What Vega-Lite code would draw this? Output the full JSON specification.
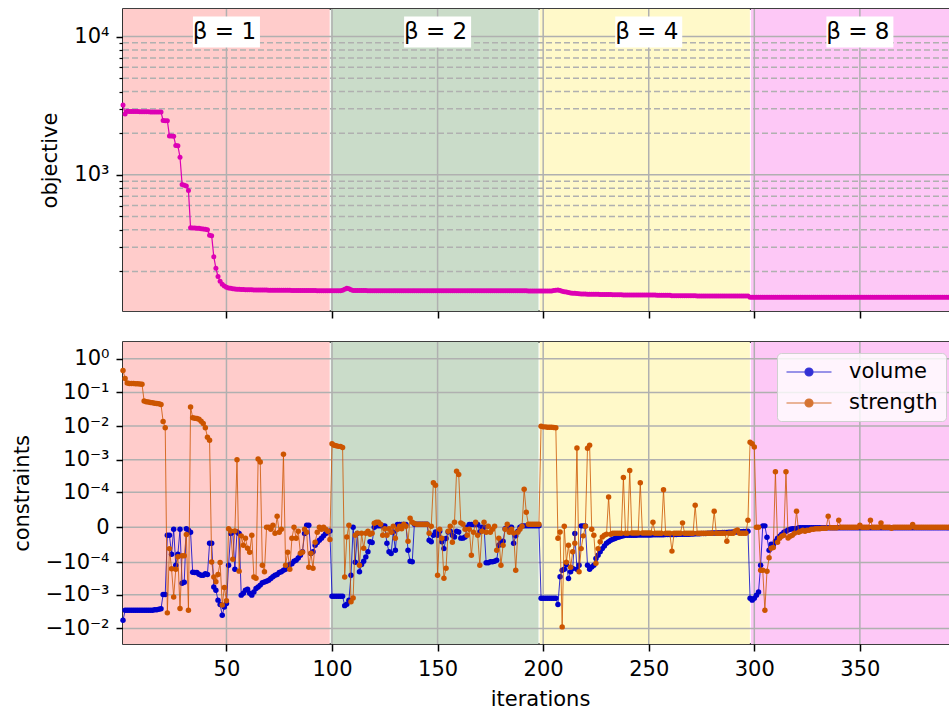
{
  "$schema": "https://vega.github.io/schema/vega-lite/v6.json",
  "background": "white",
  "padding": {"left": 10, "top": 7, "right": 0, "bottom": 0},
  "config": {
    "font": "DejaVu Sans",
    "view": {"stroke": "#000000", "strokeWidth": 1.6},
    "axis": {
      "labelFont": "DejaVu Sans", "titleFont": "DejaVu Sans",
      "labelFontSize": 21, "titleFontSize": 21, "titleFontWeight": "normal",
      "labelColor": "#000000", "titleColor": "#000000",
      "tickColor": "#000000", "tickWidth": 1.5, "tickSize": 7,
      "labelPadding": 7, "titlePadding": 13,
      "domain": false, "grid": false, "labelOverlap": false, "labelFlush": false, "labelBound": false
    },
    "legend": {"labelFont": "DejaVu Sans"}
  },
  "datasets": {
    "spans": [
      {"start": 1, "end": 98.9, "beta": "1"},
      {"start": 99.4, "end": 197.8, "beta": "2"},
      {"start": 198.3, "end": 297.9, "beta": "4"},
      {"start": 298.4, "end": 396, "beta": "8"}
    ],
    "xgrid": [{"tick": 50}, {"tick": 100}, {"tick": 150}, {"tick": 200}, {"tick": 250}, {"tick": 300}, {"tick": 350}],
    "ymajor": [{"tick": 1000}, {"tick": 10000}],
    "yminor": [{"tick": 200}, {"tick": 300}, {"tick": 400}, {"tick": 500}, {"tick": 600}, {"tick": 700}, {"tick": 800}, {"tick": 900}, {"tick": 2000}, {"tick": 3000}, {"tick": 4000}, {"tick": 5000}, {"tick": 6000}, {"tick": 7000}, {"tick": 8000}, {"tick": 9000}],
    "cgrid": [{"tick": -0.01}, {"tick": -0.001}, {"tick": -0.0001}, {"tick": 0}, {"tick": 0.0001}, {"tick": 0.001}, {"tick": 0.01}, {"tick": 0.1}, {"tick": 1}],
    "betas": [
      {"iteration": 50, "objective": 10780, "label": "β = 1"},
      {"iteration": 150, "objective": 10780, "label": "β = 2"},
      {"iteration": 250, "objective": 10780, "label": "β = 4"},
      {"iteration": 350, "objective": 10780, "label": "β = 8"}
    ],
    "iters": [
      {"iteration":1,"objective":3200,"volume":-0.0057,"strength":0.45},
      {"iteration":2,"objective":2750,"volume":-0.0029,"strength":0.26},
      {"iteration":3,"objective":2880,"volume":-0.0029,"strength":0.19},
      {"iteration":4,"objective":2875,"volume":-0.0029,"strength":0.185},
      {"iteration":5,"objective":2870,"volume":-0.0029,"strength":0.185},
      {"iteration":6,"objective":2870,"volume":-0.0029,"strength":0.183},
      {"iteration":7,"objective":2865,"volume":-0.0029,"strength":0.18},
      {"iteration":8,"objective":2865,"volume":-0.0029,"strength":0.18},
      {"iteration":9,"objective":2860,"volume":-0.0029,"strength":0.178},
      {"iteration":10,"objective":2860,"volume":-0.0029,"strength":0.175},
      {"iteration":11,"objective":2860,"volume":-0.0029,"strength":0.056},
      {"iteration":12,"objective":2855,"volume":-0.0029,"strength":0.053},
      {"iteration":13,"objective":2855,"volume":-0.0029,"strength":0.052},
      {"iteration":14,"objective":2850,"volume":-0.0029,"strength":0.05},
      {"iteration":15,"objective":2850,"volume":-0.0029,"strength":0.049},
      {"iteration":16,"objective":2850,"volume":-0.0028,"strength":0.048},
      {"iteration":17,"objective":2845,"volume":-0.0028,"strength":0.047},
      {"iteration":18,"objective":2845,"volume":-0.0027,"strength":0.046},
      {"iteration":19,"objective":2840,"volume":-0.0026,"strength":0.044},
      {"iteration":20,"objective":2470,"volume":-0.00097,"strength":0.0138},
      {"iteration":21,"objective":2465,"volume":-0.00097,"strength":0.0089},
      {"iteration":22,"objective":2460,"volume":-0.0000073,"strength":-0.00345},
      {"iteration":23,"objective":1910,"volume":-0.0000073,"strength":-0.000033},
      {"iteration":24,"objective":1905,"volume":-0.000053,"strength":-0.00016},
      {"iteration":25,"objective":1900,"volume":-0.0000015,"strength":-0.00116},
      {"iteration":26,"objective":1630,"volume":-0.000124,"strength":-0.000166},
      {"iteration":27,"objective":1620,"volume":-0.000053,"strength":-0.000065},
      {"iteration":28,"objective":1340,"volume":-0.0000015,"strength":-0.00255},
      {"iteration":29,"objective":850,"volume":-0.00045,"strength":-0.00006},
      {"iteration":30,"objective":840,"volume":-0.000416,"strength":-0.00006},
      {"iteration":31,"objective":830,"volume":-0.000001,"strength":-0.0000065},
      {"iteration":32,"objective":770,"volume":-0.0000023,"strength":-0.0029},
      {"iteration":33,"objective":415,"volume":-0.0000041,"strength":0.037},
      {"iteration":34,"objective":413,"volume":-0.000205,"strength":0.0178},
      {"iteration":35,"objective":412,"volume":-0.00021,"strength":0.017},
      {"iteration":36,"objective":411,"volume":-0.00021,"strength":0.0168},
      {"iteration":37,"objective":410,"volume":-0.000237,"strength":0.016},
      {"iteration":38,"objective":408,"volume":-0.000255,"strength":0.014},
      {"iteration":39,"objective":406,"volume":-0.000255,"strength":0.012},
      {"iteration":40,"objective":404,"volume":-0.00023,"strength":0.0089},
      {"iteration":41,"objective":400,"volume":-0.00024,"strength":0.0047},
      {"iteration":42,"objective":365,"volume":-0.00002,"strength":0.0038},
      {"iteration":43,"objective":362,"volume":-0.00002,"strength":-0.000097},
      {"iteration":44,"objective":256,"volume":-0.00058,"strength":-0.00029},
      {"iteration":45,"objective":211,"volume":-0.00073,"strength":-0.0004},
      {"iteration":46,"objective":184,"volume":-0.00144,"strength":-0.00024},
      {"iteration":47,"objective":170,"volume":-0.00194,"strength":-0.0001},
      {"iteration":48,"objective":162,"volume":-0.00405,"strength":-0.002},
      {"iteration":49,"objective":157,"volume":-0.0023,"strength":-0.0006},
      {"iteration":50,"objective":154,"volume":-0.00182,"strength":-0.0015},
      {"iteration":51,"objective":152,"volume":-0.000124,"strength":-0.000001},
      {"iteration":52,"objective":151,"volume":-0.0000054,"strength":-0.000003},
      {"iteration":53,"objective":150,"volume":-0.0000038,"strength":-0.000079},
      {"iteration":54,"objective":149.5,"volume":-0.000166,"strength":-0.000003},
      {"iteration":55,"objective":149,"volume":-0.0000038,"strength":0.001},
      {"iteration":56,"objective":148.6,"volume":-0.0000054,"strength":-0.00019},
      {"iteration":57,"objective":148.3,"volume":-0.00102,"strength":-0.000008},
      {"iteration":58,"objective":148,"volume":-0.0009,"strength":-0.000024},
      {"iteration":59,"objective":147.8,"volume":-0.00073,"strength":-0.000011},
      {"iteration":60,"objective":147.6,"volume":-0.00068,"strength":-0.000032},
      {"iteration":61,"objective":147.4,"volume":-0.0009,"strength":-0.000045},
      {"iteration":62,"objective":147.3,"volume":-0.00102,"strength":-0.0000073},
      {"iteration":63,"objective":147.2,"volume":-0.00082,"strength":-0.00029},
      {"iteration":64,"objective":147.1,"volume":-0.00064,"strength":-0.000315},
      {"iteration":65,"objective":147,"volume":-0.00058,"strength":0.00105},
      {"iteration":66,"objective":146.9,"volume":-0.00051,"strength":0.00085},
      {"iteration":67,"objective":146.8,"volume":-0.00043,"strength":-0.000124},
      {"iteration":68,"objective":146.7,"volume":-0.00041,"strength":-0.0002},
      {"iteration":69,"objective":146.7,"volume":-0.00039,"strength":0},
      {"iteration":70,"objective":146.6,"volume":-0.000363,"strength":0},
      {"iteration":71,"objective":146.5,"volume":-0.00032,"strength":-0.0000015},
      {"iteration":72,"objective":146.5,"volume":-0.000285,"strength":0.0000015},
      {"iteration":73,"objective":146.4,"volume":-0.000255,"strength":-0.0000051},
      {"iteration":74,"objective":146.4,"volume":-0.00024,"strength":0.0000112},
      {"iteration":75,"objective":146.3,"volume":-0.00021,"strength":-0.0000041},
      {"iteration":76,"objective":146.3,"volume":-0.0002,"strength":-0.0000015},
      {"iteration":77,"objective":146.2,"volume":-0.000178,"strength":0.00145},
      {"iteration":78,"objective":146.2,"volume":-0.000166,"strength":-0.000124},
      {"iteration":79,"objective":146.1,"volume":-0.00014,"strength":-0.000045},
      {"iteration":80,"objective":146.1,"volume":-0.000118,"strength":-0.000166},
      {"iteration":81,"objective":146,"volume":-0.00011,"strength":-0.0000112},
      {"iteration":82,"objective":146,"volume":-0.000092,"strength":0},
      {"iteration":83,"objective":145.9,"volume":-0.000085,"strength":-0.0000112},
      {"iteration":84,"objective":145.9,"volume":-0.000071,"strength":-0.0000031},
      {"iteration":85,"objective":145.8,"volume":-0.000058,"strength":-0.000049},
      {"iteration":86,"objective":145.8,"volume":-0.000043,"strength":-0.000045},
      {"iteration":87,"objective":145.7,"volume":-0.0000054,"strength":-0.0000015},
      {"iteration":88,"objective":145.7,"volume":0.0000015,"strength":-0.0000041},
      {"iteration":89,"objective":145.6,"volume":0.0000015,"strength":-0.000143},
      {"iteration":90,"objective":145.6,"volume":-0.00005,"strength":-0.000049},
      {"iteration":91,"objective":145.5,"volume":-0.000043,"strength":-0.000154},
      {"iteration":92,"objective":145.5,"volume":-0.000024,"strength":-0.0000178},
      {"iteration":93,"objective":145.4,"volume":-0.0000185,"strength":-0.0000041},
      {"iteration":94,"objective":145.4,"volume":-0.0000143,"strength":0},
      {"iteration":95,"objective":145.3,"volume":-0.000011,"strength":-0.0000015},
      {"iteration":96,"objective":145.3,"volume":-0.000008,"strength":0},
      {"iteration":97,"objective":145.3,"volume":-0.0000054,"strength":-0.0000015},
      {"iteration":98,"objective":145.2,"volume":-0.0000038,"strength":-0.0000031},
      {"iteration":99,"objective":145.2,"volume":-0.000003,"strength":-0.000013},
      {"iteration":100,"objective":145.2,"volume":-0.0011,"strength":0.003},
      {"iteration":101,"objective":145.2,"volume":-0.0011,"strength":0.0027},
      {"iteration":102,"objective":145.2,"volume":-0.0011,"strength":0.0026},
      {"iteration":103,"objective":145.2,"volume":-0.0011,"strength":0.0025},
      {"iteration":104,"objective":145.2,"volume":-0.0011,"strength":0.0025},
      {"iteration":105,"objective":146.5,"volume":-0.0011,"strength":0.0023},
      {"iteration":106,"objective":149,"volume":-0.0021,"strength":-0.00029},
      {"iteration":107,"objective":151,"volume":-0.0019,"strength":-0.0000094},
      {"iteration":108,"objective":150,"volume":-0.00144,"strength":0.0000015},
      {"iteration":109,"objective":147.5,"volume":-0.000255,"strength":-0.0016},
      {"iteration":110,"objective":146,"volume":0,"strength":-0.00125},
      {"iteration":111,"objective":145.5,"volume":-0.000099,"strength":-0.0000073},
      {"iteration":112,"objective":145.5,"volume":-0.0000054,"strength":-0.0000051},
      {"iteration":113,"objective":145.5,"volume":-0.0002,"strength":-0.000124},
      {"iteration":114,"objective":145.5,"volume":-0.000118,"strength":-0.0000051},
      {"iteration":115,"objective":145.5,"volume":-0.000092,"strength":-0.000032},
      {"iteration":116,"objective":145.5,"volume":-0.000066,"strength":-0.0000051},
      {"iteration":117,"objective":145.4,"volume":-0.000043,"strength":-0.0000031},
      {"iteration":118,"objective":145.4,"volume":-0.000017,"strength":-0.0000061},
      {"iteration":119,"objective":145.4,"volume":-0.0000185,"strength":-0.0000051},
      {"iteration":120,"objective":145.4,"volume":0,"strength":0.0000031},
      {"iteration":121,"objective":145.4,"volume":0.000001,"strength":0.0000041},
      {"iteration":122,"objective":145.4,"volume":0.000001,"strength":0.0000041},
      {"iteration":123,"objective":145.4,"volume":0.000001,"strength":0.0000023},
      {"iteration":124,"objective":145.4,"volume":0.000001,"strength":-0.0000073},
      {"iteration":125,"objective":145.4,"volume":0.000001,"strength":-0.000001},
      {"iteration":126,"objective":145.3,"volume":-0.00002,"strength":-0.0000073},
      {"iteration":127,"objective":145.3,"volume":-0.000043,"strength":-0.000001},
      {"iteration":128,"objective":145.3,"volume":-0.00005,"strength":-0.0000041},
      {"iteration":129,"objective":145.3,"volume":-0.0000038,"strength":0.0000007},
      {"iteration":130,"objective":145.3,"volume":-0.000038,"strength":-0.0000112},
      {"iteration":131,"objective":145.3,"volume":0.000002,"strength":-0.0000015},
      {"iteration":132,"objective":145.3,"volume":0.000002,"strength":0.0000007},
      {"iteration":133,"objective":145.3,"volume":0.000002,"strength":-0.000001},
      {"iteration":134,"objective":145.3,"volume":0.000002,"strength":0.0000023},
      {"iteration":135,"objective":145.3,"volume":0.000002,"strength":0.0000007},
      {"iteration":136,"objective":145.2,"volume":-0.000038,"strength":-0.000016},
      {"iteration":137,"objective":145.2,"volume":-0.000092,"strength":0.0000085},
      {"iteration":138,"objective":145.2,"volume":-0.000096,"strength":0.0000041},
      {"iteration":139,"objective":145.2,"volume":0.0000023,"strength":0.000003},
      {"iteration":140,"objective":145.2,"volume":0.0000023,"strength":0.0000023},
      {"iteration":141,"objective":145.2,"volume":0.0000023,"strength":0.0000023},
      {"iteration":142,"objective":145.2,"volume":0.0000023,"strength":0.0000023},
      {"iteration":143,"objective":145.2,"volume":0.0000023,"strength":0.0000023},
      {"iteration":144,"objective":145.2,"volume":0.0000023,"strength":0.0000023},
      {"iteration":145,"objective":145.2,"volume":0.0000023,"strength":0.0000023},
      {"iteration":146,"objective":145.1,"volume":-0.0000143,"strength":-0.0000051},
      {"iteration":147,"objective":145.1,"volume":-0.000017,"strength":0.0000007},
      {"iteration":148,"objective":145.1,"volume":-0.0000073,"strength":0.0002},
      {"iteration":149,"objective":145.1,"volume":-0.0000038,"strength":0.000166},
      {"iteration":150,"objective":145.1,"volume":-0.0000073,"strength":-0.000255},
      {"iteration":151,"objective":145.1,"volume":-0.0000031,"strength":-0.0000015},
      {"iteration":152,"objective":145.1,"volume":-0.000017,"strength":-0.0000112},
      {"iteration":153,"objective":145.1,"volume":-0.000033,"strength":-0.000315},
      {"iteration":154,"objective":145.1,"volume":-0.0000115,"strength":-0.000154},
      {"iteration":155,"objective":145.1,"volume":-0.0000038,"strength":-0.0000031},
      {"iteration":156,"objective":145,"volume":-0.0000031,"strength":0.0000007},
      {"iteration":157,"objective":145,"volume":-0.0000073,"strength":-0.0000178},
      {"iteration":158,"objective":145,"volume":-0.0000094,"strength":0.0000041},
      {"iteration":159,"objective":145,"volume":-0.0000031,"strength":0.00045},
      {"iteration":160,"objective":145,"volume":-0.0000038,"strength":0.00036},
      {"iteration":161,"objective":145,"volume":-0.000011,"strength":0.0000035},
      {"iteration":162,"objective":145,"volume":-0.000011,"strength":0.0000023},
      {"iteration":163,"objective":145,"volume":-0.0000094,"strength":-0.0000015},
      {"iteration":164,"objective":145,"volume":0,"strength":-0.0000073},
      {"iteration":165,"objective":145,"volume":0.000002,"strength":-0.0000015},
      {"iteration":166,"objective":145,"volume":0.000002,"strength":-0.000058},
      {"iteration":167,"objective":145,"volume":0.000002,"strength":-0.0000041},
      {"iteration":168,"objective":145,"volume":0.000002,"strength":0.0000041},
      {"iteration":169,"objective":145,"volume":0.000002,"strength":-0.0000073},
      {"iteration":170,"objective":145,"volume":-0.0000038,"strength":-0.000124},
      {"iteration":171,"objective":145,"volume":0,"strength":-0.0000031},
      {"iteration":172,"objective":145,"volume":0,"strength":0.0000041},
      {"iteration":173,"objective":145,"volume":-0.000102,"strength":-0.0000041},
      {"iteration":174,"objective":145,"volume":-0.000102,"strength":0.0000007},
      {"iteration":175,"objective":145,"volume":-0.000096,"strength":-0.0000041},
      {"iteration":176,"objective":145,"volume":-0.000096,"strength":-0.0000015},
      {"iteration":177,"objective":145,"volume":-0.000092,"strength":0.0000007},
      {"iteration":178,"objective":145,"volume":-0.000085,"strength":-0.000038},
      {"iteration":179,"objective":144.9,"volume":-0.000024,"strength":-0.0000112},
      {"iteration":180,"objective":144.9,"volume":-0.0000185,"strength":-0.000124},
      {"iteration":181,"objective":144.9,"volume":-0.000016,"strength":-0.000024},
      {"iteration":182,"objective":144.9,"volume":-0.000001,"strength":-0.0000015},
      {"iteration":183,"objective":144.9,"volume":0,"strength":0.0000023},
      {"iteration":184,"objective":144.9,"volume":0,"strength":-0.0000041},
      {"iteration":185,"objective":144.9,"volume":0,"strength":-0.0000015},
      {"iteration":186,"objective":144.9,"volume":-0.00002,"strength":-0.0000049},
      {"iteration":187,"objective":144.9,"volume":-0.000008,"strength":-0.000178},
      {"iteration":188,"objective":144.9,"volume":-0.0000031,"strength":-0.0000041},
      {"iteration":189,"objective":144.9,"volume":0,"strength":-0.0000015},
      {"iteration":190,"objective":144.9,"volume":0.000001,"strength":0.0000007},
      {"iteration":191,"objective":144.9,"volume":0.000001,"strength":0.000124},
      {"iteration":192,"objective":144.9,"volume":0.000001,"strength":0.0000178},
      {"iteration":193,"objective":144.8,"volume":0.000001,"strength":0.0000023},
      {"iteration":194,"objective":144.8,"volume":0.000001,"strength":0.0000023},
      {"iteration":195,"objective":144.8,"volume":0.000001,"strength":0.0000023},
      {"iteration":196,"objective":144.8,"volume":0.000001,"strength":0.0000023},
      {"iteration":197,"objective":144.8,"volume":0.000001,"strength":0.0000023},
      {"iteration":198,"objective":144.8,"volume":0.000001,"strength":0.0000023},
      {"iteration":199,"objective":144.8,"volume":-0.00126,"strength":0.0099},
      {"iteration":200,"objective":144.8,"volume":-0.00126,"strength":0.0095},
      {"iteration":201,"objective":144.8,"volume":-0.00126,"strength":0.0095},
      {"iteration":202,"objective":144.8,"volume":-0.00126,"strength":0.0093},
      {"iteration":203,"objective":144.8,"volume":-0.00126,"strength":0.0092},
      {"iteration":204,"objective":144.8,"volume":-0.00126,"strength":0.0092},
      {"iteration":205,"objective":145.5,"volume":-0.00126,"strength":0.0091},
      {"iteration":206,"objective":146.5,"volume":-0.00126,"strength":0.009},
      {"iteration":207,"objective":146.8,"volume":-0.00194,"strength":-0.0000112},
      {"iteration":208,"objective":146,"volume":-0.000285,"strength":-0.0000038},
      {"iteration":209,"objective":144,"volume":-0.000178,"strength":-0.009},
      {"iteration":210,"objective":143,"volume":-0.000166,"strength":0.0000007},
      {"iteration":211,"objective":142,"volume":-0.000118,"strength":-0.000099},
      {"iteration":212,"objective":141,"volume":-0.00032,"strength":-0.000024},
      {"iteration":213,"objective":140,"volume":-0.0002,"strength":-0.000143},
      {"iteration":214,"objective":139.5,"volume":-0.000158,"strength":-0.000043},
      {"iteration":215,"objective":139,"volume":-0.0000054,"strength":-0.00002},
      {"iteration":216,"objective":138.5,"volume":-0.000166,"strength":0.00225},
      {"iteration":217,"objective":138,"volume":-0.000124,"strength":-0.0002},
      {"iteration":218,"objective":137.5,"volume":0.000001,"strength":-0.000033},
      {"iteration":219,"objective":137.4,"volume":0.000001,"strength":-0.000008},
      {"iteration":220,"objective":137.3,"volume":0.000001,"strength":0.0000007},
      {"iteration":221,"objective":137.2,"volume":-0.000124,"strength":0.0022},
      {"iteration":222,"objective":137.1,"volume":-0.000166,"strength":0.0027},
      {"iteration":223,"objective":137,"volume":-0.00014,"strength":-0.0000015},
      {"iteration":224,"objective":136.9,"volume":-0.000124,"strength":-0.0000073},
      {"iteration":225,"objective":136.8,"volume":-0.000075,"strength":-0.000107},
      {"iteration":226,"objective":136.7,"volume":-0.000058,"strength":-0.000033},
      {"iteration":227,"objective":136.6,"volume":-0.000043,"strength":-0.000017},
      {"iteration":228,"objective":136.5,"volume":-0.000033,"strength":-0.0000094},
      {"iteration":229,"objective":136.4,"volume":-0.000026,"strength":-0.0000073},
      {"iteration":230,"objective":136.3,"volume":-0.00002,"strength":-0.0000061},
      {"iteration":231,"objective":136.2,"volume":-0.000017,"strength":0.000069},
      {"iteration":232,"objective":136.1,"volume":-0.0000143,"strength":-0.0000061},
      {"iteration":233,"objective":136,"volume":-0.0000127,"strength":-0.0000051},
      {"iteration":234,"objective":135.9,"volume":-0.0000115,"strength":-0.0000051},
      {"iteration":235,"objective":135.8,"volume":-0.0000102,"strength":-0.0000051},
      {"iteration":236,"objective":135.7,"volume":-0.0000094,"strength":-0.0000051},
      {"iteration":237,"objective":135.6,"volume":-0.0000085,"strength":-0.0000051},
      {"iteration":238,"objective":135.5,"volume":-0.000008,"strength":0.00029},
      {"iteration":239,"objective":135.5,"volume":-0.0000073,"strength":-0.0000051},
      {"iteration":240,"objective":135.4,"volume":-0.0000073,"strength":-0.0000051},
      {"iteration":241,"objective":135.4,"volume":-0.0000073,"strength":0.00047},
      {"iteration":242,"objective":135.3,"volume":-0.0000073,"strength":-0.0000048},
      {"iteration":243,"objective":135.3,"volume":-0.0000072,"strength":-0.0000048},
      {"iteration":244,"objective":135.2,"volume":-0.0000072,"strength":-0.0000048},
      {"iteration":245,"objective":135.2,"volume":-0.0000071,"strength":-0.0000048},
      {"iteration":246,"objective":135.1,"volume":-0.0000071,"strength":0.0002},
      {"iteration":247,"objective":135.1,"volume":-0.000007,"strength":-0.0000048},
      {"iteration":248,"objective":135,"volume":-0.000007,"strength":-0.0000048},
      {"iteration":249,"objective":135,"volume":-0.000007,"strength":-0.0000048},
      {"iteration":250,"objective":135,"volume":-0.0000069,"strength":-0.0000048},
      {"iteration":251,"objective":135,"volume":-0.0000069,"strength":-0.0000048},
      {"iteration":252,"objective":135,"volume":-0.0000068,"strength":0.0000041},
      {"iteration":253,"objective":135,"volume":-0.0000068,"strength":-0.0000051},
      {"iteration":254,"objective":134.9,"volume":-0.0000067,"strength":-0.0000051},
      {"iteration":255,"objective":134.9,"volume":-0.0000067,"strength":-0.0000051},
      {"iteration":256,"objective":134.9,"volume":-0.0000066,"strength":-0.0000051},
      {"iteration":257,"objective":134.9,"volume":-0.0000066,"strength":0.00012},
      {"iteration":258,"objective":134.8,"volume":-0.0000065,"strength":-0.0000051},
      {"iteration":259,"objective":134.8,"volume":-0.0000065,"strength":-0.0000051},
      {"iteration":260,"objective":134.5,"volume":-0.0000064,"strength":-0.0000051},
      {"iteration":261,"objective":133.5,"volume":-0.0000064,"strength":-0.000041},
      {"iteration":262,"objective":133.5,"volume":-0.0000063,"strength":-0.0000051},
      {"iteration":263,"objective":133.5,"volume":-0.0000063,"strength":-0.0000051},
      {"iteration":264,"objective":133.4,"volume":-0.0000062,"strength":-0.0000051},
      {"iteration":265,"objective":133.4,"volume":-0.0000062,"strength":-0.0000051},
      {"iteration":266,"objective":133.4,"volume":-0.0000061,"strength":0.0000035},
      {"iteration":267,"objective":133.4,"volume":-0.0000061,"strength":-0.0000051},
      {"iteration":268,"objective":133.3,"volume":-0.000006,"strength":-0.0000051},
      {"iteration":269,"objective":133.3,"volume":-0.000006,"strength":-0.0000051},
      {"iteration":270,"objective":133.3,"volume":-0.0000059,"strength":-0.0000051},
      {"iteration":271,"objective":133.3,"volume":-0.0000058,"strength":-0.0000051},
      {"iteration":272,"objective":133.3,"volume":-0.0000057,"strength":0.000035},
      {"iteration":273,"objective":133.2,"volume":-0.0000056,"strength":-0.0000051},
      {"iteration":274,"objective":133.2,"volume":-0.0000055,"strength":-0.0000051},
      {"iteration":275,"objective":133.2,"volume":-0.0000054,"strength":-0.0000051},
      {"iteration":276,"objective":133.2,"volume":-0.0000053,"strength":-0.0000051},
      {"iteration":277,"objective":133.2,"volume":-0.0000052,"strength":-0.0000051},
      {"iteration":278,"objective":133.2,"volume":-0.0000051,"strength":-0.0000051},
      {"iteration":279,"objective":133.1,"volume":-0.000005,"strength":-0.0000051},
      {"iteration":280,"objective":133.1,"volume":-0.0000049,"strength":-0.0000051},
      {"iteration":281,"objective":133.1,"volume":-0.0000048,"strength":0.0000198},
      {"iteration":282,"objective":133.1,"volume":-0.0000047,"strength":-0.0000051},
      {"iteration":283,"objective":133.1,"volume":-0.0000046,"strength":-0.0000051},
      {"iteration":284,"objective":133.1,"volume":-0.0000045,"strength":-0.0000051},
      {"iteration":285,"objective":133.1,"volume":-0.0000044,"strength":-0.0000051},
      {"iteration":286,"objective":133.1,"volume":-0.0000043,"strength":-0.0000051},
      {"iteration":287,"objective":133,"volume":-0.0000042,"strength":-0.000016},
      {"iteration":288,"objective":133,"volume":-0.0000041,"strength":-0.0000051},
      {"iteration":289,"objective":133,"volume":-0.000004,"strength":-0.0000051},
      {"iteration":290,"objective":133,"volume":-0.0000039,"strength":-0.0000051},
      {"iteration":291,"objective":133,"volume":-0.0000038,"strength":-0.000003},
      {"iteration":292,"objective":133,"volume":-0.0000037,"strength":-0.000002},
      {"iteration":293,"objective":133,"volume":-0.0000036,"strength":-0.0000051},
      {"iteration":294,"objective":133,"volume":-0.0000035,"strength":-0.0000051},
      {"iteration":295,"objective":133,"volume":-0.0000034,"strength":-0.0000051},
      {"iteration":296,"objective":133,"volume":-0.0000033,"strength":-0.0000051},
      {"iteration":297,"objective":133,"volume":-0.0000031,"strength":0.0000061},
      {"iteration":298,"objective":130.5,"volume":-0.00126,"strength":0.0033},
      {"iteration":299,"objective":130.5,"volume":-0.00144,"strength":0.003},
      {"iteration":300,"objective":130.5,"volume":-0.00126,"strength":0.0024},
      {"iteration":301,"objective":130.5,"volume":-0.00102,"strength":0},
      {"iteration":302,"objective":130.4,"volume":-0.00082,"strength":0},
      {"iteration":303,"objective":130.4,"volume":-0.000124,"strength":-0.000178},
      {"iteration":304,"objective":130.4,"volume":0.000001,"strength":-0.000178},
      {"iteration":305,"objective":130.4,"volume":0.000001,"strength":-0.0029},
      {"iteration":306,"objective":130.4,"volume":-0.0000098,"strength":-0.000191},
      {"iteration":307,"objective":130.4,"volume":-0.000038,"strength":-0.00007},
      {"iteration":308,"objective":130.3,"volume":-0.000022,"strength":-0.000032},
      {"iteration":309,"objective":130.3,"volume":-0.000024,"strength":-0.00003},
      {"iteration":310,"objective":130.3,"volume":-0.000016,"strength":0.00043},
      {"iteration":311,"objective":130.3,"volume":-0.0000112,"strength":-0.0000178},
      {"iteration":312,"objective":130.3,"volume":-0.0000085,"strength":-0.0000112},
      {"iteration":313,"objective":130.3,"volume":-0.0000061,"strength":-0.0000085},
      {"iteration":314,"objective":130.3,"volume":-0.0000041,"strength":-0.0000073},
      {"iteration":315,"objective":130.2,"volume":-0.0000031,"strength":0.00043},
      {"iteration":316,"objective":130.2,"volume":-0.000002,"strength":-0.0000107},
      {"iteration":317,"objective":130.2,"volume":-0.0000015,"strength":-0.0000085},
      {"iteration":318,"objective":130.2,"volume":-0.000001,"strength":-0.0000073},
      {"iteration":319,"objective":130.2,"volume":-0.000001,"strength":-0.0000051},
      {"iteration":320,"objective":130.2,"volume":-0.000001,"strength":0.0000198},
      {"iteration":321,"objective":130.2,"volume":-0.0000003,"strength":-0.0000041},
      {"iteration":322,"objective":130.2,"volume":-0.0000003,"strength":-0.0000031},
      {"iteration":323,"objective":130.2,"volume":-0.0000003,"strength":-0.0000023},
      {"iteration":324,"objective":130.2,"volume":-0.0000003,"strength":-0.0000031},
      {"iteration":325,"objective":130.2,"volume":-0.0000003,"strength":-0.0000023},
      {"iteration":326,"objective":130.2,"volume":-0.0000003,"strength":-0.0000023},
      {"iteration":327,"objective":130.1,"volume":-0.0000003,"strength":-0.0000015},
      {"iteration":328,"objective":130.1,"volume":-0.0000003,"strength":-0.0000015},
      {"iteration":329,"objective":130.1,"volume":-0.0000003,"strength":-0.000001},
      {"iteration":330,"objective":130.1,"volume":-0.0000003,"strength":-0.000001},
      {"iteration":331,"objective":130.1,"volume":-0.0000003,"strength":-0.000001},
      {"iteration":332,"objective":130.1,"volume":-0.0000003,"strength":-0.0000007},
      {"iteration":333,"objective":130.1,"volume":-0.0000003,"strength":-0.0000007},
      {"iteration":334,"objective":130.1,"volume":-0.0000003,"strength":-0.0000007},
      {"iteration":335,"objective":130.1,"volume":-0.0000003,"strength":0.0000112},
      {"iteration":336,"objective":130.1,"volume":-0.0000003,"strength":-0.0000003},
      {"iteration":337,"objective":130.1,"volume":-0.0000003,"strength":-0.0000003},
      {"iteration":338,"objective":130.1,"volume":-0.0000003,"strength":-0.0000003},
      {"iteration":339,"objective":130.1,"volume":-0.0000003,"strength":-0.0000003},
      {"iteration":340,"objective":130.1,"volume":-0.0000003,"strength":0.0000061},
      {"iteration":341,"objective":130,"volume":-0.0000003,"strength":0},
      {"iteration":342,"objective":130,"volume":-0.0000003,"strength":0},
      {"iteration":343,"objective":130,"volume":-0.0000003,"strength":0},
      {"iteration":344,"objective":130,"volume":-0.0000003,"strength":0},
      {"iteration":345,"objective":130,"volume":-0.0000003,"strength":0},
      {"iteration":346,"objective":130,"volume":-0.0000003,"strength":0},
      {"iteration":347,"objective":130,"volume":-0.0000003,"strength":0},
      {"iteration":348,"objective":130,"volume":-0.0000003,"strength":0},
      {"iteration":349,"objective":130,"volume":-0.0000003,"strength":0},
      {"iteration":350,"objective":130,"volume":-0.0000003,"strength":0.0000015},
      {"iteration":351,"objective":130,"volume":-0.0000003,"strength":0},
      {"iteration":352,"objective":130,"volume":-0.0000003,"strength":0},
      {"iteration":353,"objective":130,"volume":-0.0000003,"strength":0},
      {"iteration":354,"objective":130,"volume":-0.0000003,"strength":0},
      {"iteration":355,"objective":130,"volume":-0.0000003,"strength":0.0000061},
      {"iteration":356,"objective":130,"volume":-0.0000003,"strength":0},
      {"iteration":357,"objective":130,"volume":-0.0000003,"strength":0},
      {"iteration":358,"objective":130,"volume":-0.0000003,"strength":0},
      {"iteration":359,"objective":130,"volume":-0.0000003,"strength":0},
      {"iteration":360,"objective":130,"volume":-0.0000003,"strength":0.0000035},
      {"iteration":361,"objective":130,"volume":-0.0000003,"strength":0},
      {"iteration":362,"objective":130,"volume":-0.0000003,"strength":0},
      {"iteration":363,"objective":130,"volume":-0.0000003,"strength":0},
      {"iteration":364,"objective":130,"volume":-0.0000003,"strength":0},
      {"iteration":365,"objective":130,"volume":-0.0000003,"strength":-0.0000007},
      {"iteration":366,"objective":130,"volume":-0.0000003,"strength":0},
      {"iteration":367,"objective":130,"volume":-0.0000003,"strength":0},
      {"iteration":368,"objective":130,"volume":-0.0000003,"strength":0},
      {"iteration":369,"objective":130,"volume":-0.0000003,"strength":0},
      {"iteration":370,"objective":130,"volume":-0.0000003,"strength":0},
      {"iteration":371,"objective":130,"volume":-0.0000003,"strength":0},
      {"iteration":372,"objective":130,"volume":-0.0000003,"strength":0},
      {"iteration":373,"objective":130,"volume":-0.0000003,"strength":0},
      {"iteration":374,"objective":130,"volume":-0.0000003,"strength":0},
      {"iteration":375,"objective":130,"volume":-0.0000003,"strength":0.000002},
      {"iteration":376,"objective":130,"volume":-0.0000003,"strength":0},
      {"iteration":377,"objective":130,"volume":-0.0000003,"strength":0},
      {"iteration":378,"objective":130,"volume":-0.0000003,"strength":0},
      {"iteration":379,"objective":130,"volume":-0.0000003,"strength":0},
      {"iteration":380,"objective":130,"volume":-0.0000003,"strength":0},
      {"iteration":381,"objective":130,"volume":-0.0000003,"strength":0},
      {"iteration":382,"objective":130,"volume":-0.0000003,"strength":0},
      {"iteration":383,"objective":130,"volume":-0.0000003,"strength":0},
      {"iteration":384,"objective":130,"volume":-0.0000003,"strength":0},
      {"iteration":385,"objective":130,"volume":-0.0000003,"strength":0},
      {"iteration":386,"objective":130,"volume":-0.0000003,"strength":0},
      {"iteration":387,"objective":130,"volume":-0.0000003,"strength":0},
      {"iteration":388,"objective":130,"volume":-0.0000003,"strength":0},
      {"iteration":389,"objective":130,"volume":-0.0000003,"strength":0},
      {"iteration":390,"objective":130,"volume":-0.0000003,"strength":0},
      {"iteration":391,"objective":130,"volume":-0.0000003,"strength":0},
      {"iteration":392,"objective":130,"volume":-0.0000003,"strength":0},
      {"iteration":393,"objective":130,"volume":-0.0000003,"strength":0},
      {"iteration":394,"objective":130,"volume":-0.0000003,"strength":0},
      {"iteration":395,"objective":130,"volume":-0.0000003,"strength":0},
      {"iteration":396,"objective":130,"volume":-0.0000003,"strength":0}
    ]
  },
  "spacing": 31,
  "bounds": "flush",
  "resolve": {"scale": {"color": "independent"}, "legend": {"color": "independent"}},
  "vconcat": [
    {
      "width": 834,
      "height": 302,
      "resolve": {"axis": {"x": "independent", "y": "independent"}},
      "layer": [
        {
          "data": {"name": "spans"},
          "mark": {"type": "rect"},
          "encoding": {
            "x": {"field": "start", "type": "quantitative", "scale": {"domain": [1, 396], "nice": false, "zero": false},
                  "axis": {"orient": "bottom", "values": [50, 100, 150, 200, 250, 300, 350], "labels": false, "title": null}},
            "x2": {"field": "end"},
            "fill": {"field": "beta", "type": "nominal", "scale": {"domain": ["1", "2", "4", "8"], "range": ["#ffcccb", "#cadcc9", "#fff9c9", "#fdc8f6"]}, "legend": null}
          }
        },
        {
          "data": {"name": "xgrid"},
          "mark": {"type": "rule", "color": "#b0b0b0", "strokeWidth": 1.5},
          "encoding": {
            "x": {"field": "tick", "type": "quantitative", "scale": {"domain": [1, 396], "nice": false, "zero": false}, "axis": null}
          }
        },
        {
          "data": {"name": "ymajor"},
          "mark": {"type": "rule", "color": "#b0b0b0", "strokeWidth": 1.5},
          "encoding": {
            "y": {"field": "tick", "type": "quantitative", "scale": {"type": "log", "domain": [103.6, 15810], "nice": false},
                  "axis": {"orient": "left", "values": [1000, 10000], "title": "objective",
                           "labelExpr": "datum.value == 1000 ? '10³' : '10⁴'"}}
          }
        },
        {
          "data": {"name": "yminor"},
          "mark": {"type": "rule", "color": "#b0b0b0", "strokeWidth": 1.5, "strokeDash": [6, 3]},
          "encoding": {
            "y": {"field": "tick", "type": "quantitative", "scale": {"type": "log", "domain": [103.6, 15810], "nice": false},
                  "axis": {"orient": "left", "values": [200, 300, 400, 500, 600, 700, 800, 900, 2000, 3000, 4000, 5000, 6000, 7000, 8000, 9000],
                           "labels": false, "tickSize": 4, "tickWidth": 1.2, "title": null}}
          }
        },
        {
          "data": {"name": "betas"},
          "mark": {"type": "point", "shape": "M-1,-0.463H1V0.463H-1Z", "filled": true, "color": "#ffffff", "opacity": 1, "size": 4489, "strokeWidth": 0},
          "encoding": {
            "x": {"field": "iteration", "type": "quantitative", "scale": {"domain": [1, 396], "nice": false, "zero": false}, "axis": null},
            "y": {"field": "objective", "type": "quantitative", "scale": {"type": "log", "domain": [103.6, 15810], "nice": false}, "axis": null}
          }
        },
        {
          "data": {"name": "betas"},
          "mark": {"type": "text", "font": "DejaVu Sans", "fontSize": 23, "color": "#000000", "align": "center", "baseline": "middle", "dx": -2},
          "encoding": {
            "x": {"field": "iteration", "type": "quantitative", "scale": {"domain": [1, 396], "nice": false, "zero": false}, "axis": null},
            "y": {"field": "objective", "type": "quantitative", "scale": {"type": "log", "domain": [103.6, 15810], "nice": false}, "axis": null},
            "text": {"field": "label"}
          }
        },
        {
          "data": {"name": "iters"},
          "mark": {"type": "line", "color": "#dd00b4", "strokeWidth": 1.2},
          "encoding": {
            "x": {"field": "iteration", "type": "quantitative", "scale": {"domain": [1, 396], "nice": false, "zero": false}, "axis": null},
            "y": {"field": "objective", "type": "quantitative", "scale": {"type": "log", "domain": [103.6, 15810], "nice": false}, "axis": null}
          }
        },
        {
          "data": {"name": "iters"},
          "mark": {"type": "point", "filled": true, "color": "#dd00b4", "opacity": 1, "size": 25},
          "encoding": {
            "x": {"field": "iteration", "type": "quantitative", "scale": {"domain": [1, 396], "nice": false, "zero": false}, "axis": null},
            "y": {"field": "objective", "type": "quantitative", "scale": {"type": "log", "domain": [103.6, 15810], "nice": false}, "axis": null}
          }
        }
      ]
    },
    {
      "width": 834,
      "height": 302,
      "resolve": {"axis": {"x": "independent", "y": "independent"}},
      "layer": [
        {
          "data": {"name": "spans"},
          "mark": {"type": "rect"},
          "encoding": {
            "x": {"field": "start", "type": "quantitative", "scale": {"domain": [1, 396], "nice": false, "zero": false},
                  "axis": {"orient": "bottom", "values": [50, 100, 150, 200, 250, 300, 350], "title": "iterations", "labelPadding": 7, "titlePadding": 9}},
            "x2": {"field": "end"},
            "fill": {"field": "beta", "type": "nominal", "scale": {"domain": ["1", "2", "4", "8"], "range": ["#ffcccb", "#cadcc9", "#fff9c9", "#fdc8f6"]}, "legend": null}
          }
        },
        {
          "data": {"name": "xgrid"},
          "mark": {"type": "rule", "color": "#b0b0b0", "strokeWidth": 1.5},
          "encoding": {
            "x": {"field": "tick", "type": "quantitative", "scale": {"domain": [1, 396], "nice": false, "zero": false}, "axis": null}
          }
        },
        {
          "data": {"name": "cgrid"},
          "mark": {"type": "rule", "color": "#b0b0b0", "strokeWidth": 1.5},
          "encoding": {
            "y": {"field": "tick", "type": "quantitative", "scale": {"type": "symlog", "constant": 0.00001, "domain": [-0.029, 3.13], "nice": false, "zero": false},
                  "axis": {"orient": "left", "values": [-0.01, -0.001, -0.0001, 0, 0.0001, 0.001, 0.01, 0.1, 1], "title": "constraints",
                           "labelExpr": "datum.value == 1 ? '10⁰' : datum.value == 0.1 ? '10⁻¹' : datum.value == 0.01 ? '10⁻²' : datum.value == 0.001 ? '10⁻³' : datum.value == 0.0001 ? '10⁻⁴' : datum.value == 0 ? '0' : datum.value == -0.0001 ? '−10⁻⁴' : datum.value == -0.001 ? '−10⁻³' : '−10⁻²'"}}
          }
        },
        {
          "data": {"name": "iters"},
          "mark": {"type": "line", "strokeWidth": 1, "opacity": 0.8},
          "encoding": {
            "x": {"field": "iteration", "type": "quantitative", "scale": {"domain": [1, 396], "nice": false, "zero": false}, "axis": null},
            "y": {"field": "volume", "type": "quantitative", "scale": {"type": "symlog", "constant": 0.00001, "domain": [-0.029, 3.13], "nice": false, "zero": false}, "axis": null},
            "color": {"datum": "volume", "type": "nominal",
                      "scale": {"domain": ["volume", "strength"], "range": ["#0000cc", "#cc5500"]},
                      "legend": {"orient": "top-right", "offset": 11, "title": null, "padding": 8,
                                 "fillColor": "rgba(255,255,255,0.8)", "strokeColor": "#d0d0d0", "cornerRadius": 4,
                                 "labelFontSize": 21, "labelColor": "#000000", "labelFont": "DejaVu Sans",
                                 "symbolType": "M-2.25,0H2.25M-0.4,0A0.4,0.4,0,1,0,0.4,0A0.4,0.4,0,1,0,-0.4,0Z",
                                 "symbolSize": 400, "symbolStrokeWidth": 1.2, "symbolOffset": 13, "labelOffset": 29, "rowPadding": 10,
                                 "encode": {"symbols": {"update": {"stroke": {"scale": "color", "field": "value"}, "fill": {"scale": "color", "field": "value"}, "opacity": {"value": 1}}}}}}
          }
        },
        {
          "data": {"name": "iters"},
          "mark": {"type": "point", "filled": true, "opacity": 1, "size": 30},
          "encoding": {
            "x": {"field": "iteration", "type": "quantitative", "scale": {"domain": [1, 396], "nice": false, "zero": false}, "axis": null},
            "y": {"field": "volume", "type": "quantitative", "scale": {"type": "symlog", "constant": 0.00001, "domain": [-0.029, 3.13], "nice": false, "zero": false}, "axis": null},
            "color": {"datum": "volume", "type": "nominal"}
          }
        },
        {
          "data": {"name": "iters"},
          "mark": {"type": "line", "strokeWidth": 1, "opacity": 0.8},
          "encoding": {
            "x": {"field": "iteration", "type": "quantitative", "scale": {"domain": [1, 396], "nice": false, "zero": false}, "axis": null},
            "y": {"field": "strength", "type": "quantitative", "scale": {"type": "symlog", "constant": 0.00001, "domain": [-0.029, 3.13], "nice": false, "zero": false}, "axis": null},
            "color": {"datum": "strength", "type": "nominal"}
          }
        },
        {
          "data": {"name": "iters"},
          "mark": {"type": "point", "filled": true, "opacity": 1, "size": 30},
          "encoding": {
            "x": {"field": "iteration", "type": "quantitative", "scale": {"domain": [1, 396], "nice": false, "zero": false}, "axis": null},
            "y": {"field": "strength", "type": "quantitative", "scale": {"type": "symlog", "constant": 0.00001, "domain": [-0.029, 3.13], "nice": false, "zero": false}, "axis": null},
            "color": {"datum": "strength", "type": "nominal"}
          }
        }
      ]
    }
  ]
}
